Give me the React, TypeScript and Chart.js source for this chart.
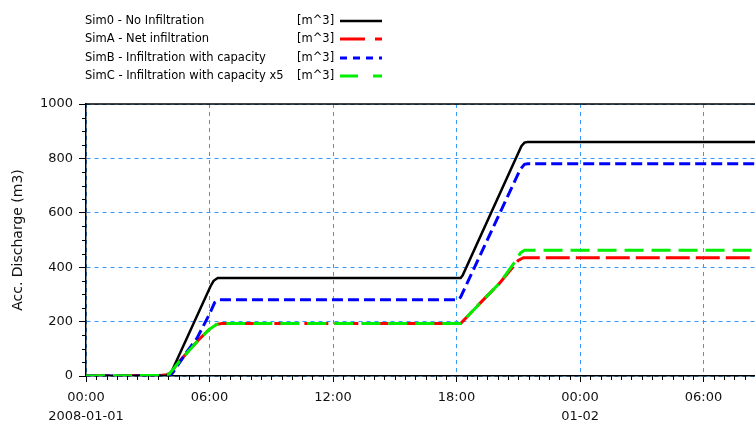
import React, { useEffect, useRef } from 'react';
import { Chart, registerables } from 'chart.js';

Chart.register(...registerables);

// ---- data ----
const seriesLabels = [
  'Sim0 - No Infiltration',
  'SimA - Net infiltration',
  'SimB - Infiltration with capacity',
  'SimC - Infiltration with capacity x5',
];
const unitLabel = '[m^3]';

// hours since 2008-01-01 00:00
const sim0Hours = [0, 3.9, 4.15, 6.05, 6.2, 6.4, 18.2, 18.3, 21.15, 21.3, 21.45, 32.5];
const sim0Values = [0, 0, 15, 330, 350, 360, 360, 370, 845, 858, 860, 860];

const simAHours = [0, 3.6, 3.9, 4.05, 4.55, 5.5, 6.0, 6.35, 6.6, 18.2, 19.3, 20.1, 21.0, 21.25, 32.5];
const simAValues = [0, 2, 5, 8, 55, 135, 172, 190, 193, 193, 280, 342, 425, 435, 435];

const simBHours = [0, 4.0, 4.2, 4.9, 5.4, 6.0, 6.25, 6.45, 18.05, 18.2, 21.1, 21.3, 21.45, 32.5];
const simBValues = [0, 0, 10, 89, 140, 228, 270, 280, 280, 290, 760, 778, 780, 780];

const simCHours = [0, 3.6, 3.9, 4.05, 4.55, 5.5, 6.0, 6.35, 6.6, 18.2, 19.3, 20.1, 20.95, 21.1, 21.3, 32.5];
const simCValues = [0, 2, 5, 8, 55, 135, 172, 190, 193, 193, 280, 342, 432, 452, 462, 462];

const xMinHours = 0;
const xMaxHours = 32.5;
const xTickHours = [0, 6, 12, 18, 24, 30];
const xTickLabels: (string | string[])[] = [
  ['00:00', '2008-01-01'],
  '06:00',
  '12:00',
  '18:00',
  ['00:00', '01-02'],
  '06:00',
];
const xMinorStep = 0.5;

const yMin = 0;
const yMax = 1000;
const yTickValues = [0, 200, 400, 600, 800, 1000];
const yMinorStep = 50;
const yTitle = 'Acc. Discharge (m3)';

// ---- styles ----
const seriesColors = ['#000000', '#ff0000', '#0000ff', '#00ee00'];
const seriesWidths = [2.5, 3, 3, 3];
const seriesDashes: number[][] = [[], [24, 6], [11, 5], [19, 8]];
const legendDashes: number[][] = [[], [25, 10], [7, 6], [18, 15]];
const seriesOrder = [1, 3, 2, 0];
const gridColor = '#3399ff';
const FONT = '"DejaVu Sans", Verdana, sans-serif';

const toPoints = (xs: number[], ys: number[]) => xs.map((x, i) => ({ x, y: ys[i] }));

const extrasPlugin = {
  id: 'extras',
  afterDraw(chart: any) {
    const { ctx, chartArea } = chart;
    const xs = chart.scales.x;
    const ys = chart.scales.y;
    ctx.save();
    // minor ticks
    ctx.strokeStyle = '#000';
    ctx.lineWidth = 1;
    ctx.setLineDash([]);
    ctx.beginPath();
    for (let h = xMinHours + xMinorStep; h < xMaxHours; h += xMinorStep) {
      if (xTickHours.some((t) => Math.abs(t - h) < 1e-6)) continue;
      const px = Math.round(xs.getPixelForValue(h)) + 0.5;
      ctx.moveTo(px, chartArea.bottom);
      ctx.lineTo(px, chartArea.bottom + 4);
    }
    for (let v = yMin + yMinorStep; v < yMax; v += yMinorStep) {
      if (yTickValues.includes(v)) continue;
      const py = Math.round(ys.getPixelForValue(v)) + 0.5;
      ctx.moveTo(chartArea.left - 4, py);
      ctx.lineTo(chartArea.left, py);
    }
    ctx.stroke();
    // top frame line
    ctx.lineWidth = 1.5;
    ctx.beginPath();
    ctx.moveTo(chartArea.left, chartArea.top);
    ctx.lineTo(chartArea.right, chartArea.top);
    ctx.stroke();

    // legend
    ctx.font = `11.5px ${FONT}`;
    ctx.fillStyle = '#000';
    ctx.textBaseline = 'middle';
    ctx.textAlign = 'left';
    chart.data.datasets.forEach((ds: any, i: number) => {
      const yy = 21 + i * 18.3;
      ctx.fillText(ds.label, 85, yy);
      ctx.fillText(unitLabel, 297, yy);
      ctx.strokeStyle = ds.borderColor;
      ctx.lineWidth = i === 0 ? 2.5 : 3;
      ctx.setLineDash(legendDashes[i]);
      ctx.beginPath();
      ctx.moveTo(340, Math.round(yy));
      ctx.lineTo(382, Math.round(yy));
      ctx.stroke();
    });
    ctx.restore();
  },
};

export default function App() {
  const ref = useRef<HTMLCanvasElement | null>(null);
  useEffect(() => {
    if (!ref.current) return;
    const allSeries = [
      toPoints(sim0Hours, sim0Values),
      toPoints(simAHours, simAValues),
      toPoints(simBHours, simBValues),
      toPoints(simCHours, simCValues),
    ];
    const chart = new Chart(ref.current, {
      type: 'line',
      data: {
        datasets: allSeries.map((pts, i) => ({
          label: seriesLabels[i],
          data: pts,
          borderColor: seriesColors[i],
          backgroundColor: seriesColors[i],
          borderWidth: seriesWidths[i],
          borderDash: seriesDashes[i],
          pointRadius: 0,
          tension: 0,
          fill: false,
          order: seriesOrder[i],
        })),
      },
      options: {
        animation: false,
        responsive: false,
        maintainAspectRatio: false,
        parsing: true,
        layout: { padding: { top: 104, left: 0, right: 0, bottom: 0 } },
        plugins: {
          legend: { display: false },
          tooltip: { enabled: false },
          title: { display: false },
        },
        scales: {
          x: {
            type: 'linear',
            min: xMinHours,
            max: xMaxHours,
            afterBuildTicks: (scale: any) => {
              scale.ticks = xTickHours.map((v) => ({ value: v }));
            },
            afterFit: (scale: any) => {
              scale.height = 46;
              scale.paddingLeft = 0;
              scale.paddingRight = 0;
            },
            ticks: {
              autoSkip: false,
              maxRotation: 0,
              padding: 6,
              color: '#111',
              font: { family: FONT, size: 13, lineHeight: 1.45 },
              callback: (value: any) => {
                const idx = xTickHours.indexOf(Number(value));
                return idx >= 0 ? xTickLabels[idx] : '';
              },
            },
            grid: {
              color: gridColor,
              lineWidth: 1,
              drawTicks: true,
              tickLength: 6,
              tickColor: '#000',
              tickWidth: 1,
            },
            border: { display: true, color: '#000', width: 1.5, dash: [4, 4] },
          },
          y: {
            type: 'linear',
            min: yMin,
            max: yMax,
            afterBuildTicks: (scale: any) => {
              scale.ticks = yTickValues.map((v) => ({ value: v }));
            },
            afterFit: (scale: any) => {
              scale.width = 86;
            },
            ticks: {
              padding: 6,
              color: '#111',
              font: { family: FONT, size: 13 },
              callback: (value: any) => String(value),
            },
            title: {
              display: true,
              text: yTitle,
              color: '#111',
              font: { family: FONT, size: 14 },
              padding: { top: 10, bottom: 0 },
            },
            grid: {
              color: gridColor,
              lineWidth: 1,
              drawTicks: true,
              tickLength: 7,
              tickColor: '#000',
              tickWidth: 1,
            },
            border: { display: true, color: '#000', width: 1.5, dash: [4, 4] },
          },
        },
      },
      plugins: [extrasPlugin],
    } as any);
    return () => chart.destroy();
  }, []);
  return (
    <div style={{ position: 'fixed', left: 0, top: 0, width: 755, height: 422, overflow: 'hidden', background: '#fff' }}>
      <canvas ref={ref} width={755} height={422} style={{ width: 755, height: 422 }} />
    </div>
  );
}
